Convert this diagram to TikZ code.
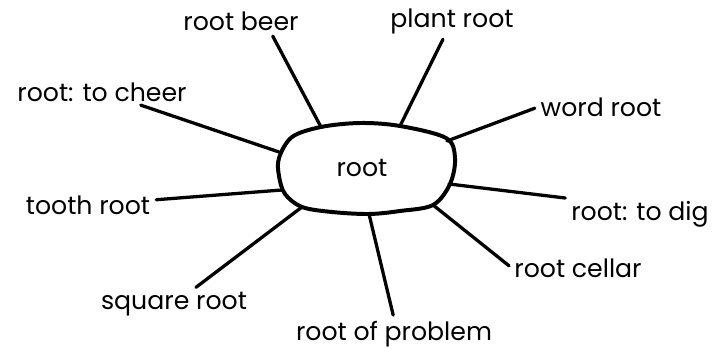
\documentclass[tikz,border=0pt]{standalone}
\usepackage{fontspec}
\setmainfont{Poppins}
\usetikzlibrary{calc}

\tikzset{
  every node/.style={font=\fontsize{21.5}{24}\selectfont, inner sep=2pt},
  spoke/.style={line width=2.8pt, line cap=round, shorten <=3pt},
  blob/.style={line width=3.4pt, line join=round}
}

\begin{document}
\begin{tikzpicture}[x=0.03cm,y=-0.03cm]
\useasboundingbox (0,0) rectangle (712,349);

% centre
\node (C) at (362,168)
{root};
\draw[blob] plot[smooth cycle, tension=0.55] coordinates {
  (279,158) (292,137) (321,127) (360,123) (400,126) (446,138) (455,158)
  (450,184) (433,205) (400,211) (369,214) (332,212) (302,207) (285,194)
  (279,176)};

% where the spokes meet the outline
\coordinate (b1) at (321,127);
\coordinate (b2) at (400,126);
\coordinate (b3) at (279,152);
\coordinate (b4) at (447,141);
\coordinate (b5) at (282,190);
\coordinate (b6) at (449,184);
\coordinate (b7) at (433,205);
\coordinate (b8) at (302,207);
\coordinate (b9) at (369,214);

% labels
\node (BEER) at (241,21)
{root beer};
\node (PLANT) at (452,21)
{plant root};
\node (CHEER) at (102,92)
{root: to cheer};
\node (WORD) at (601,107)
{word root};
\node (TOOTH) at (88,205)
{tooth root};
\node (DIG) at (640,214)
{root: to dig};
\node (CELLAR) at (578,268)
{root cellar};
\node (SQUARE) at (174,304)
{square root};
\node (PROBLEM) at (394,334)
{root of problem};

\draw[spoke] ($(BEER.south)!0.5!(BEER.south east)$) to (b1);
\draw[spoke] (PLANT) to (b2);
\draw[spoke] (CHEER) to (b3);
\draw[spoke] (WORD.west) to (b4);
\draw[spoke] (TOOTH) to (b5);
\draw[spoke] (DIG.north west) to (b6);
\draw[spoke] (CELLAR.west) to (b7);
\draw[spoke] (SQUARE) to (b8);
\draw[spoke] (PROBLEM.north) to (b9);
\end{tikzpicture}
\end{document}
